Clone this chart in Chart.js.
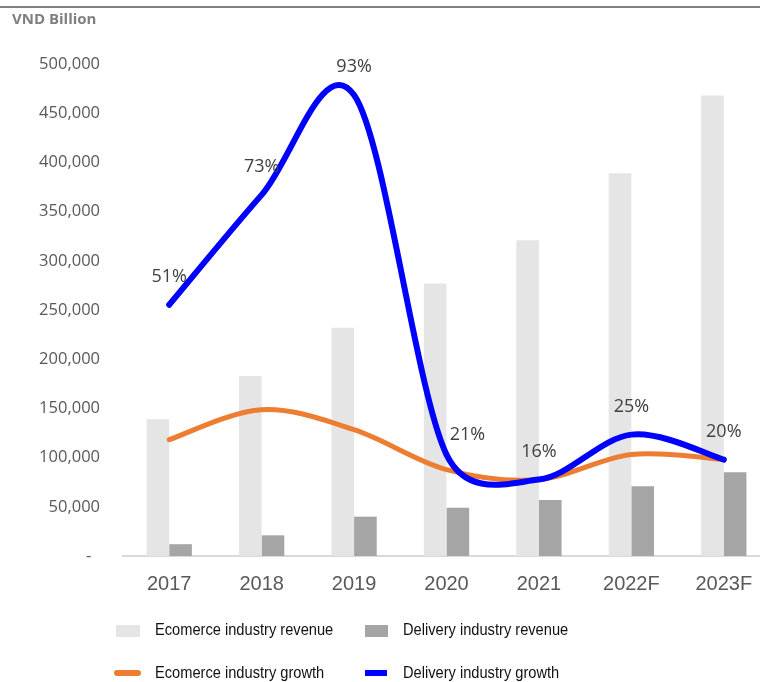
<!DOCTYPE html>
<html>
<head>
<meta charset="utf-8">
<script src="https://cdn.jsdelivr.net/npm/chart.js@4.4.1/dist/chart.umd.min.js"></script>
<style>
  html, body { margin: 0; padding: 0; background: #fff; overflow: hidden; }
  #wrap { width: 760px; height: 682px; overflow: hidden; }
</style>
</head>
<body>
<div id="wrap"><canvas id="growthChart" width="780" height="682"></canvas></div>
<script>
// chart data (VND billion / % growth)
const years = ['2017', '2018', '2019', '2020', '2021', '2022F', '2023F'];
const ecomRevenue = [139000, 183000, 232000, 277000, 321000, 389000, 468000];
const deliveryRevenue = [12000, 21000, 40000, 49000, 57000, 71000, 85000];
const ecomGrowth = [24, 30, 26, 18, 16, 21, 20];
const deliveryGrowth = [51, 73, 93, 21, 16, 25, 20];
const yTicks = [0, 50000, 100000, 150000, 200000, 250000, 300000, 350000, 400000, 450000, 500000];

// Excel-like smoothing: catmull-rom tangents (1/6), limited to half the segment length
function dist(a, b) {
    return Math.hypot(b.x - a.x, b.y - a.y);
}
const excelSmooth = {
    id: 'excelSmooth',
    beforeDatasetDraw(chart, args) {
        const line = args.meta.dataset;
        if (!line) return;
        line.updateControlPoints(chart.chartArea, 'x');
        const pts = line.points;
        const n = pts.length;
        for (let i = 0; i < n - 1; i++) {
            const p0 = pts[Math.max(i - 1, 0)];
            const p1 = pts[i];
            const p2 = pts[i + 1];
            const p3 = pts[Math.min(i + 2, n - 1)];
            const d12 = dist(p1, p2);
            const d02 = dist(p0, p2);
            const d13 = dist(p1, p3);
            let f1 = 1 / 6, f2 = 1 / 6;
            if (d02 / 6 > d12 / 2) f1 = d12 / d02 / 2;
            if (d13 / 6 > d12 / 2) f2 = d12 / d13 / 2;
            p1.cp2x = p1.x + f1 * (p2.x - p0.x);
            p1.cp2y = p1.y + f1 * (p2.y - p0.y);
            p2.cp1x = p2.x - f2 * (p3.x - p1.x);
            p2.cp1y = p2.y - f2 * (p3.y - p1.y);
        }
    }
};

// labels + legend + header drawn on the canvas
const decorPlugin = {
    id: 'decor',
    afterDatasetsDraw(chart) {
        const ctx = chart.ctx;
        const meta = chart.getDatasetMeta(3);
        ctx.save();
        ctx.font = '18px "Open Sans"';
        ctx.fillStyle = '#404040';
        ctx.textAlign = 'center';
        ctx.textBaseline = 'middle';
        meta.data.forEach((pt, i) => {
            let dx = 0, dy = -28;
            if (i === 3) { dx = 21; dy = -20; }
            ctx.fillText(deliveryGrowth[i] + '%', pt.x + dx, pt.y + dy);
        });
        ctx.restore();
    },
    afterDraw(chart) {
        const ctx = chart.ctx;
        const ds = chart.data.datasets;
        ctx.save();
        // header rule and unit
        ctx.fillStyle = '#808080';
        ctx.fillRect(0, 6, 780, 2);
        ctx.font = 'bold 15px "Open Sans"';
        ctx.fillStyle = '#7f7f7f';
        ctx.textAlign = 'left';
        ctx.textBaseline = 'middle';
        ctx.fillText('VND Billion', 12, 20);

        // legend
        ctx.fillStyle = ds[0].backgroundColor;
        ctx.fillRect(116, 625, 24, 12);
        ctx.fillStyle = ds[1].backgroundColor;
        ctx.fillRect(365, 625, 23, 12);

        ctx.strokeStyle = ds[2].borderColor;
        ctx.lineWidth = 6;
        ctx.lineCap = 'round';
        ctx.beginPath();
        ctx.moveTo(117, 673);
        ctx.lineTo(138, 673);
        ctx.stroke();
        ctx.fillStyle = ds[3].borderColor;
        ctx.fillRect(365, 670, 22, 6);

        // legend text is slightly condensed in the original
        const sx = 0.915;
        ctx.font = '16px "Liberation Sans", Arial';
        ctx.fillStyle = '#111';
        ctx.scale(sx, 1);
        ctx.fillText(ds[0].label, 155 / sx, 631);
        ctx.fillText(ds[1].label, 403 / sx, 631);
        ctx.fillText(ds[2].label, 155 / sx, 674);
        ctx.fillText(ds[3].label, 403 / sx, 674);
        ctx.restore();
    }
};

const ctx = document.getElementById('growthChart').getContext('2d');
new Chart(ctx, {
    type: 'bar',
    data: {
        labels: years,
        datasets: [
            {
                label: 'Ecomerce industry revenue',
                data: ecomRevenue,
                backgroundColor: '#e5e5e5',
                yAxisID: 'y',
                order: 3,
                categoryPercentage: 0.49,
                barPercentage: 1.0
            },
            {
                label: 'Delivery industry revenue',
                data: deliveryRevenue,
                backgroundColor: '#a5a5a5',
                yAxisID: 'y',
                order: 4,
                categoryPercentage: 0.49,
                barPercentage: 1.0
            },
            {
                type: 'line',
                label: 'Ecomerce industry growth',
                data: ecomGrowth,
                borderColor: '#ed7d31',
                borderWidth: 5,
                borderCapStyle: 'round',
                tension: 0.4,
                pointRadius: 0,
                fill: false,
                yAxisID: 'y2',
                order: 2
            },
            {
                type: 'line',
                label: 'Delivery industry growth',
                data: deliveryGrowth,
                borderColor: '#0000ff',
                borderWidth: 6,
                borderCapStyle: 'round',
                tension: 0.4,
                pointRadius: 0,
                fill: false,
                yAxisID: 'y2',
                order: 1
            }
        ]
    },
    options: {
        responsive: false,
        animation: false,
        devicePixelRatio: 1,
        layout: { padding: { top: 64, right: 10, left: 0, bottom: 0 } },
        scales: {
            x: {
                grid: { display: false, drawTicks: false },
                border: { display: true, color: '#d9d9d9', width: 2 },
                ticks: {
                    color: '#595959',
                    padding: 16,
                    font: { family: '"Liberation Sans", Arial', size: 20 }
                },
                afterFit: (scale) => { scale.height = 126; }
            },
            y: {
                min: 0,
                max: 500000,
                grid: { display: false, drawTicks: false },
                border: { display: false },
                afterBuildTicks: (scale) => { scale.ticks = yTicks.map(v => ({ value: v })); },
                ticks: {
                    color: '#595959',
                    padding: 23,
                    font: { family: '"Open Sans"', size: 16.5 },
                    callback: (value) => value === 0 ? '-  ' : value.toLocaleString('en-US')
                },
                afterFit: (scale) => { scale.width = 123; }
            },
            y2: {
                display: false,
                min: 0.7,
                max: 99.2
            }
        },
        plugins: {
            legend: { display: false },
            tooltip: { enabled: false }
        }
    },
    plugins: [excelSmooth, decorPlugin]
});
</script>
</body>
</html>
